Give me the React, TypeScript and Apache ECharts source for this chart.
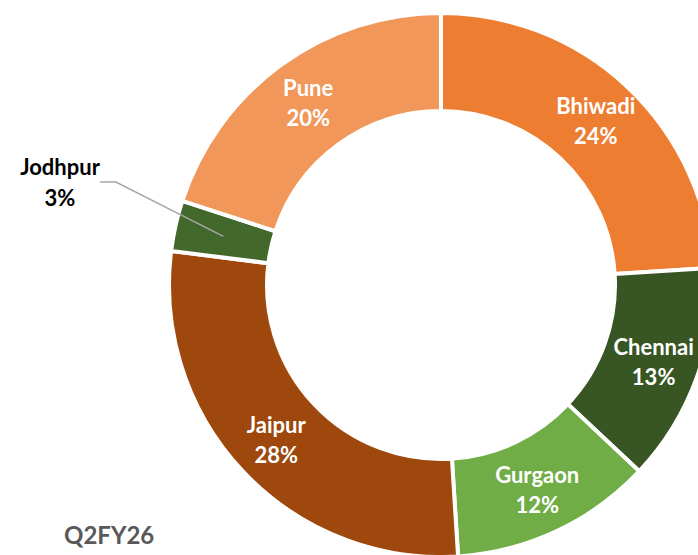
import React, { useEffect, useRef } from "react";
import * as echarts from "echarts";

const categories = ["Bhiwadi", "Chennai", "Gurgaon", "Jaipur", "Jodhpur", "Pune"];
const values = [24, 13, 12, 28, 3, 20];
const colors = ["#ED7D31", "#375623", "#70AD47", "#9E480E", "#43682B", "#F1975A"];
const outsideLabel = "Jodhpur";
const titleText = "Q2FY26";

export default function App() {
  const ref = useRef<HTMLDivElement>(null);
  useEffect(() => {
    if (!ref.current) return;
    const chart = echarts.init(ref.current, undefined, { renderer: "svg" });
    const font = "Lato";
    const mainData = categories.map((name, i) => ({
      name,
      value: values[i],
      itemStyle: { color: colors[i] },
      label: { show: name !== outsideLabel },
    }));
    const ghostData = categories.map((name, i) => ({
      name,
      value: values[i],
      label: { show: name === outsideLabel },
      labelLine: { show: name === outsideLabel },
    }));
    chart.setOption({
      animation: false,
      title: {
        text: titleText,
        left: 59,
        top: 517,
        textStyle: { fontFamily: font, fontSize: 24, fontWeight: "bold", color: "#595959" },
      },
      series: [
        {
          type: "pie",
          center: [441, 285],
          radius: [174, 272],
          startAngle: 90,
          clockwise: true,
          silent: true,
          itemStyle: { borderColor: "#ffffff", borderWidth: 4 },
          label: {
            position: "inside",
            formatter: "{b}\n{c}%",
            color: "#ffffff",
            fontFamily: font,
            fontSize: 22,
            fontWeight: "bold",
            lineHeight: 30,
          },
          labelLine: { show: false },
          data: mainData,
        },
        {
          type: "pie",
          center: [441, 285],
          radius: [0, 223],
          startAngle: 90,
          clockwise: true,
          silent: true,
          z: 5,
          itemStyle: { color: "rgba(0,0,0,0)" },
          label: {
            position: "outside",
            formatter: "{b}\n{c}%",
            color: "#000000",
            fontFamily: font,
            fontSize: 22,
            fontWeight: "bold",
            lineHeight: 31,
            align: "center",
          },
          labelLine: {
            length: 110,
            length2: 16,
            lineStyle: { color: "#A6A6A6", width: 1.5 },
          },
          labelLayout: (p: any) =>
            p.dataIndex === categories.indexOf(outsideLabel)
              ? { x: 60, y: 182, align: "center", verticalAlign: "middle" }
              : {},
          data: ghostData,
        },
      ],
    });
    return () => chart.dispose();
  }, []);
  return (
    <div
      ref={ref}
      style={{ position: "fixed", left: 0, top: 0, width: 698, height: 555, background: "#ffffff" }}
    />
  );
}
